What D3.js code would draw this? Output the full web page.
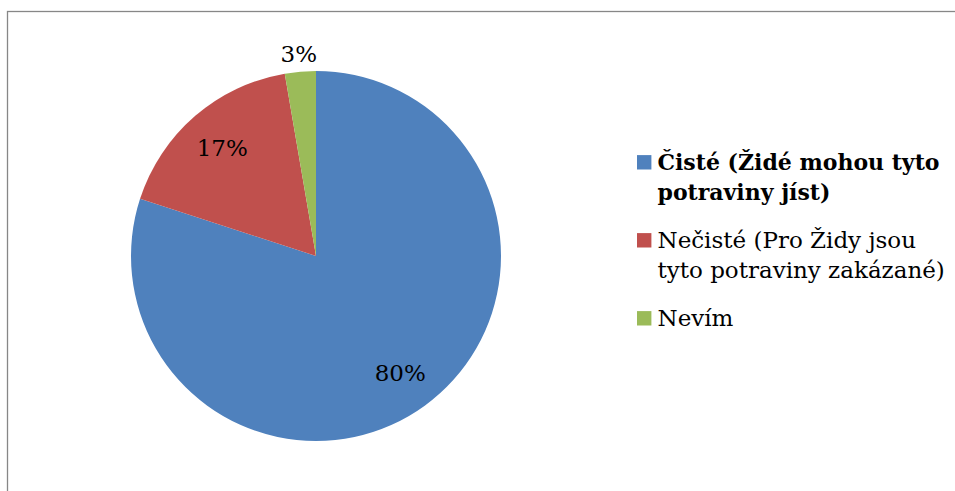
<!DOCTYPE html>
<html>
<head>
<meta charset="utf-8">
<script src="https://cdn.jsdelivr.net/npm/d3@7"></script>
<style>
  html, body { margin: 0; padding: 0; background: #fff; }
  svg { display: block; }
  text { font-family: "DejaVu Serif", "Liberation Serif", serif; fill: #000; }
</style>
</head>
<body>
<svg id="chart" width="955" height="491"></svg>
<script>
// ---- data ----
const categories = [
  "Čisté (Židé mohou tyto\npotraviny jíst)",
  "Nečisté (Pro Židy jsou\ntyto potraviny zakázané)",
  "Nevím"
];
const values = [80.0, 17.3, 2.7];
const colors = ["#4F81BD", "#C0504D", "#9BBB59"];
const boldLegend = [true, false, false];

// ---- layout ----
const W = 955, H = 491;
const cx = 316, cy = 256, R = 185;
const fontSize = 23;

const svg = d3.select("#chart");

// frame (only top & left edges visible in the reference)
svg.append("rect")
  .attr("x", 7.5).attr("y", 11.5)
  .attr("width", 1200).attr("height", 1200)
  .attr("fill", "none")
  .attr("stroke", "#878787")
  .attr("stroke-width", 1.3);

const data = categories.map((c, i) => ({ name: c, value: values[i], color: colors[i], bold: boldLegend[i] }));

const pie = d3.pie().sort(null).value(d => d.value);
const arcs = pie(data);
const arc = d3.arc().innerRadius(0).outerRadius(R);

const g = svg.append("g").attr("transform", `translate(${cx},${cy})`);
g.selectAll("path.slice")
  .data(arcs)
  .enter().append("path")
  .attr("class", "slice")
  .attr("d", arc)
  .attr("fill", d => d.data.color);

// labels: inside for big slices, outside for the small one
const labelArcIn = d3.arc().innerRadius(R * 0.775).outerRadius(R * 0.775);
const labelArcOut = d3.arc().innerRadius(R * 1.1).outerRadius(R * 1.1);
g.selectAll("text.lbl")
  .data(arcs)
  .enter().append("text")
  .attr("class", "lbl")
  .attr("transform", d => {
    const p = (d.data.value < 5 ? labelArcOut : labelArcIn).centroid(d);
    return `translate(${p[0]},${p[1]})`;
  })
  .attr("text-anchor", "middle")
  .attr("dy", "0.37em")
  .attr("font-size", fontSize)
  .text(d => Math.round(d.data.value) + "%");

// legend
const legX = 637, legTextX = 657.5;
const lineH = 30, itemGap = 18, firstBaseline = 170, sq = 14.4;
let y = firstBaseline;
data.forEach(d => {
  const lines = d.name.split("\n");
  svg.append("rect")
    .attr("x", legX).attr("y", y - sq - 0.5)
    .attr("width", sq).attr("height", sq)
    .attr("fill", d.color);
  const t = svg.append("text")
    .attr("x", legTextX).attr("y", y)
    .attr("font-size", d.bold ? 22 : fontSize)
    .attr("font-weight", d.bold ? "bold" : "normal");
  lines.forEach((ln, j) => {
    t.append("tspan")
      .attr("x", legTextX)
      .attr("y", y + j * lineH)
      .text(ln);
  });
  y += lines.length * lineH + itemGap;
});
</script>
</body>
</html>
